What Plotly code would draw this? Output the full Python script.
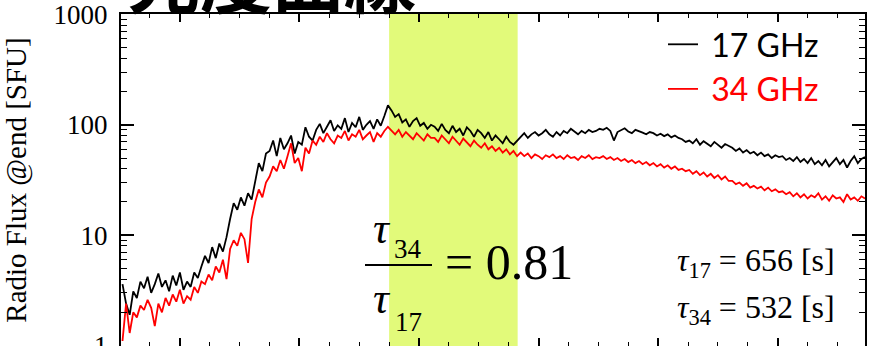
import plotly.graph_objects as go

# ---- data ----
T0_S = -192          # first sample time [s]
DT_S = 12            # sampling cadence [s]

flux_17ghz = [
    3.6, 2.4, 1.9,
    3.1, 2.7, 3.8, 3.3, 4.2, 3.0, 3.6, 4.5, 3.4, 3.9, 3.1, 4.3, 3.5, 4.6, 3.2, 3.8,
    3.4, 4.6, 4.1, 5.2,
    6.5, 5.6, 7.8, 6.2, 8.4, 7.1, 9.6,
    14, 19.5, 17, 22, 18.5, 24, 21,
    32, 45, 38, 55,
    58, 72, 52, 76, 60, 68, 80, 55, 70,
    66, 95, 78, 72, 90, 102, 84, 96, 110, 88, 99, 92, 115, 86, 104, 95, 118, 90, 100, 108, 92, 112, 98, 120, 150,
    135, 118, 125, 105, 112, 96, 108, 115, 98, 104, 92, 100,
    96, 88, 102, 90, 84, 98, 86, 92, 80, 95, 88, 78, 90, 84, 76, 86, 72, 80, 74, 68, 78, 70, 66, 72,
    78, 84, 76, 82, 86, 80, 84, 90, 82, 78, 86, 80, 88, 84, 92, 86, 82, 88, 84, 90, 86, 88, 92,
    90, 94, 88, 72, 86, 90, 93, 87, 84, 90, 88, 85, 82, 86, 84, 80, 83, 79, 82, 77, 80, 76,
    74, 70, 72, 68, 74, 66, 71, 68, 64, 70, 66, 62, 67, 64,
    62, 58, 61, 56, 59, 55, 57, 53, 56, 52, 54, 50, 53, 51,
    52, 48, 50, 47, 51, 46, 49, 45, 50, 44, 47, 43, 48, 42, 46, 50, 44, 48, 41, 47, 52, 45, 49, 51,
]

flux_34ghz = [
    1.1, 2.4, 1.3,
    2.0, 1.8, 2.3, 2.1, 2.6, 2.2, 1.5, 2.4, 2.0, 2.7, 2.3, 2.9, 2.5, 3.2, 2.4, 2.8,
    2.6, 3.4, 3.0, 3.8,
    3.6, 4.4, 3.9, 5.2, 4.6, 6.0, 4.0,
    7.5, 9.0, 8.0, 10.5, 9.2, 5.6, 14,
    20, 26, 22, 30,
    34, 42, 38, 48, 40, 52, 68, 45, 50,
    38, 62, 55, 72, 66, 78, 70, 84, 74, 68, 80, 76, 88, 72, 82, 78, 90, 74, 80, 86, 70, 84, 78, 88, 96,
    88, 82, 90, 78, 86, 80, 74, 84, 78, 72, 82, 76,
    76, 70, 80, 74, 68, 78, 72, 66, 75, 70, 64, 72, 66, 62, 68, 60, 64, 58, 62, 56, 60, 54, 58, 52,
    56, 52, 55, 50, 54, 52, 49, 53, 51, 54, 50, 52, 49, 53, 50, 51, 48, 52, 50, 53, 49, 51, 50,
    52, 49, 51, 48, 50, 47, 49, 46, 48, 45, 47, 44, 46, 43, 45, 42, 44, 41, 43, 40, 42, 39,
    40, 38, 39, 36, 38, 35, 37, 34, 36, 33, 35, 32, 34, 31,
    31, 29, 30, 28, 29.5, 27, 28, 26.5, 27.5, 25.5, 27, 25, 26, 24.5,
    25, 23.5, 24.5, 22.5, 24, 22, 23.5, 21.5, 23, 22, 24, 21, 22.5, 20.5, 23, 21.5, 22, 20, 23.5, 21, 22, 20.5, 22.5, 21.5,
]

series_names = ["17 GHz", "34 GHz"]
series_colors = ["#000000", "#ff0000"]
shade_window_s = [700, 1130]
x_range_s = [-197, 2292]
y_range_log = [-0.004, 3.004]
tau_17_s = 656
tau_34_s = 532
tau_ratio = 0.81
title_text = "光度曲線"
y_title = "Radio Flux @end [SFU]"

time_17 = [T0_S + DT_S * i for i in range(len(flux_17ghz))]
time_34 = [T0_S + DT_S * i for i in range(len(flux_34ghz))]

# ---- figure ----
W, H = 869, 346
ML, MR, MT, MB = 121, 4, 14, 0
PW, PH = W - ML - MR, H - MT - MB


def px(x):
    return (x - ML) / PW


def py(y):
    return (H - MB - y) / PH


SERIF = "Liberation Serif, Times New Roman, Times, serif"

fig = go.Figure()
fig.add_trace(go.Scatter(
    x=time_17, y=flux_17ghz, mode="lines",
    line=dict(color=series_colors[0], width=1.8),
    name="\u00a0" + series_names[0]))
fig.add_trace(go.Scatter(
    x=time_34, y=flux_34ghz, mode="lines",
    line=dict(color=series_colors[1], width=1.8),
    name="\u00a0<span style='color:#ff0000'>" + series_names[1] + "</span>"))

fig.add_vrect(x0=shade_window_s[0], x1=shade_window_s[1],
              fillcolor="#e2fa7a", opacity=1, line_width=0, layer="below")

annotations = [
    dict(text="<b>" + title_text + "</b>", x=px(272), y=py(-24), xref="paper", yref="paper",
         showarrow=False, xanchor="center", yanchor="middle",
         font=dict(family="Noto Sans CJK JP", size=72, color="black")),
    # big ratio
    dict(text="<i>τ</i>", x=px(382), y=py(228), xref="paper", yref="paper", showarrow=False,
         xanchor="center", yanchor="middle", font=dict(family=SERIF, size=44, color="black")),
    dict(text="34", x=px(408), y=py(249), xref="paper", yref="paper", showarrow=False,
         xanchor="center", yanchor="middle", font=dict(family=SERIF, size=27, color="black")),
    dict(text="<i>τ</i>", x=px(382), y=py(298), xref="paper", yref="paper", showarrow=False,
         xanchor="center", yanchor="middle", font=dict(family=SERIF, size=44, color="black")),
    dict(text="17", x=px(408), y=py(322), xref="paper", yref="paper", showarrow=False,
         xanchor="center", yanchor="middle", font=dict(family=SERIF, size=27, color="black")),
    dict(text="= %.2f" % tau_ratio, x=px(443), y=py(262), xref="paper", yref="paper",
         showarrow=False, xanchor="left", yanchor="middle",
         font=dict(family=SERIF, size=50, color="black")),
    # decay times
    dict(text="<i>τ</i><sub>17</sub> = %d [s]" % tau_17_s, x=px(837), y=py(262),
         xref="paper", yref="paper", showarrow=False, xanchor="right", yanchor="middle",
         font=dict(family=SERIF, size=32, color="black")),
    dict(text="<i>τ</i><sub>34</sub> = %d [s]" % tau_34_s, x=px(837), y=py(309),
         xref="paper", yref="paper", showarrow=False, xanchor="right", yanchor="middle",
         font=dict(family=SERIF, size=32, color="black")),
]

fig.add_shape(type="line", xref="paper", yref="paper",
              x0=px(365), x1=px(432), y0=py(265), y1=py(265),
              line=dict(color="black", width=2))

fig.update_layout(
    width=W, height=H,
    margin=dict(l=ML, r=MR, t=MT, b=MB, pad=0, autoexpand=False),
    paper_bgcolor="white", plot_bgcolor="rgba(0,0,0,0)",
    showlegend=True,
    legend=dict(x=px(663), y=py(17), xanchor="left", yanchor="top",
                bgcolor="rgba(0,0,0,0)", borderwidth=0, tracegroupgap=0,
                font=dict(family="Lato", size=32, color="black")),
    annotations=annotations,
    xaxis=dict(range=x_range_s, showgrid=False, zeroline=False, automargin=False,
               tick0=0, dtick=400, ticks="inside", ticklen=8, tickwidth=1.5,
               tickcolor="black", showticklabels=False,
               minor=dict(dtick=100, ticks="inside", ticklen=4, tickwidth=1.2,
                          tickcolor="black", showgrid=False),
               showline=True, linewidth=2, linecolor="black", mirror="ticks"),
    yaxis=dict(type="log", range=y_range_log, showgrid=False, zeroline=False,
               automargin=False,
               dtick=1, exponentformat="none", ticks="inside", ticklen=13,
               tickwidth=1.5, tickcolor="black",
               minor=dict(dtick="D1", ticks="inside", ticklen=6, tickwidth=1.2,
                          tickcolor="black", showgrid=False),
               showline=True, linewidth=2, linecolor="black", mirror="ticks",
               tickfont=dict(family=SERIF, size=27, color="black"),
               ticklabelstandoff=6, ticklabeloverflow="allow",
               title=dict(text=y_title, standoff=21,
                          font=dict(family=SERIF, size=29, color="black"))),
)

fig.write_html("out.html")
